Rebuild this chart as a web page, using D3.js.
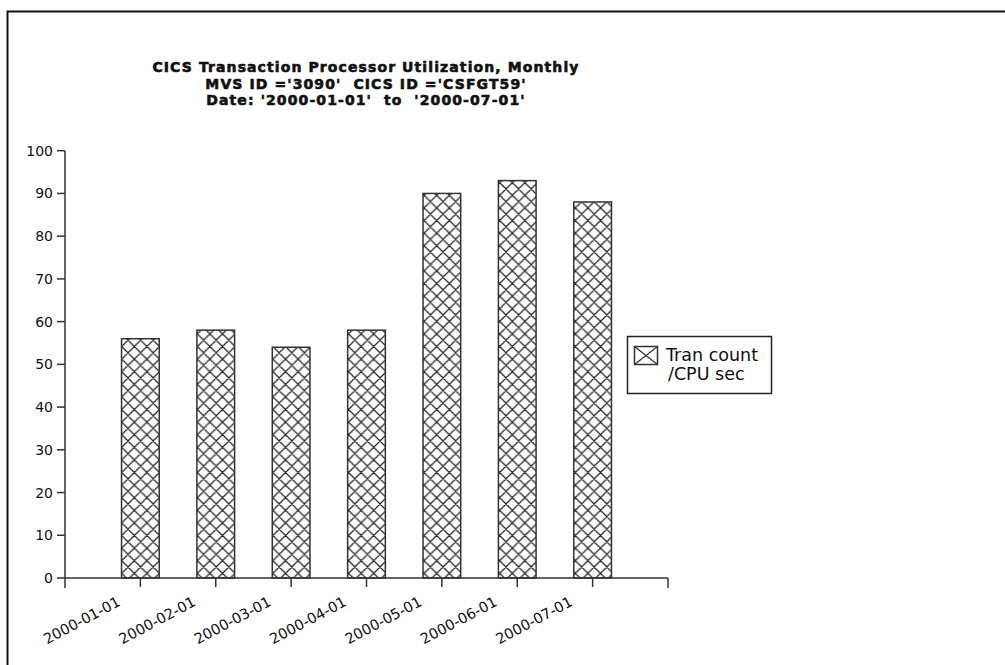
<!DOCTYPE html>
<html>
<head>
<meta charset="utf-8">
<script src="https://cdn.jsdelivr.net/npm/d3@7"></script>
<style>
  html, body { margin: 0; padding: 0; background: #fff; }
  svg { display: block; }
  text { font-family: "DejaVu Sans", "Liberation Sans", Arial, sans-serif; fill: #111; }
</style>
</head>
<body>
<script>
const categories = ["2000-01-01","2000-02-01","2000-03-01","2000-04-01","2000-05-01","2000-06-01","2000-07-01"];
const values = [56, 58, 54, 58, 90, 93, 88];
const yTicks = [0,10,20,30,40,50,60,70,80,90,100];
const titleLines = [
  "CICS Transaction Processor Utilization, Monthly",
  "MVS ID ='3090'  CICS ID ='CSFGT59'",
  "Date: '2000-01-01'  to  '2000-07-01'"
];
const legendLines = ["Tran count", "/CPU sec"];

const W = 1005, H = 665;
const svg = d3.select("body").append("svg").attr("width", W).attr("height", H);

// pattern
const defs = svg.append("defs");
const pat = defs.append("pattern").attr("id", "xhatch")
  .attr("patternUnits", "userSpaceOnUse").attr("width", 12.6).attr("height", 12.6)
  .attr("x", 2).attr("y", 0);
pat.append("rect").attr("width", 12.6).attr("height", 12.6).attr("fill", "#fff");
pat.append("path").attr("d", "M-1,-1 L13.6,13.6 M-1,13.6 L13.6,-1 M-7,5.3 L7.3,19.6 M5.3,-7 L19.6,7.3 M-7,7.3 L7.3,-7 M5.3,19.6 L19.6,5.3")
  .attr("stroke", "#222").attr("stroke-width", 1.2).attr("fill", "none");

// outer frame
svg.append("path").attr("d", "M7.5,665 L7.5,11.5 L1005,11.5")
  .attr("fill", "none").attr("stroke", "#111").attr("stroke-width", 2);

const x0 = 65, x1 = 668, yBase = 578, yTop = 150.7;
const slots = d3.range(categories.length + 2);
const xs = d3.scalePoint().domain(slots).range([x0, x1]);
const x = c => xs(categories.indexOf(c) + 1);
const y = d3.scaleLinear().domain([0, 100]).range([yBase, yTop]);
const step = xs.step();
const bw = step * 0.5;

// bars
svg.append("g").selectAll("rect").data(categories).join("rect")
  .attr("x", c => x(c) - bw / 2)
  .attr("y", (c, i) => y(values[i]))
  .attr("width", bw)
  .attr("height", (c, i) => y(0) - y(values[i]))
  .attr("fill", "url(#xhatch)")
  .attr("stroke", "#333").attr("stroke-width", 1.5);

// y axis
const ya = svg.append("g");
ya.append("line").attr("x1", x0).attr("x2", x0).attr("y1", y(100)).attr("y2", yBase + 10)
  .attr("stroke", "#333").attr("stroke-width", 1.5);
ya.selectAll("line.t").data(yTicks).join("line").attr("class", "t")
  .attr("x1", x0 - 8).attr("x2", x0).attr("y1", d => y(d)).attr("y2", d => y(d))
  .attr("stroke", "#333").attr("stroke-width", 1.5);
ya.selectAll("text").data(yTicks).join("text")
  .attr("x", x0 - 12).attr("y", d => y(d)).attr("dy", "0.36em")
  .attr("text-anchor", "end").attr("font-size", 14).text(d => d);

// x axis
const xa = svg.append("g");
xa.append("line").attr("x1", x0).attr("x2", x1).attr("y1", yBase).attr("y2", yBase)
  .attr("stroke", "#333").attr("stroke-width", 1.5);
xa.append("line").attr("x1", x1).attr("x2", x1).attr("y1", yBase).attr("y2", yBase + 10)
  .attr("stroke", "#333").attr("stroke-width", 1.5);
xa.selectAll("line.t").data(categories).join("line").attr("class", "t")
  .attr("x1", c => x(c)).attr("x2", c => x(c)).attr("y1", yBase).attr("y2", yBase + 9)
  .attr("stroke", "#333").attr("stroke-width", 1.5);
xa.selectAll("text").data(categories).join("text")
  .attr("transform", c => `translate(${x(c) - 19},${yBase + 27}) rotate(-28)`)
  .attr("text-anchor", "end").attr("font-size", 14.5).text(c => c);

// title
svg.append("g").selectAll("text").data(titleLines).join("text")
  .attr("x", 366).attr("y", (d, i) => 72 + i * 16.5)
  .attr("text-anchor", "middle").attr("font-size", 14).attr("font-weight", "bold")
  .attr("letter-spacing", 1.1)
  .attr("stroke", "#111").attr("stroke-width", 0.6)
  .attr("xml:space", "preserve").style("white-space", "pre")
  .text(d => d);

// legend
const lg = svg.append("g");
lg.append("rect").attr("x", 627.5).attr("y", 336.5).attr("width", 144).attr("height", 57)
  .attr("fill", "#fff").attr("stroke", "#222").attr("stroke-width", 1.5);
lg.append("rect").attr("x", 634.5).attr("y", 346.5).attr("width", 23).attr("height", 18)
  .attr("fill", "#fff").attr("stroke", "#333").attr("stroke-width", 1.5);
lg.append("path").attr("d", "M634.5,346.5 L657.5,364.5 M634.5,364.5 L657.5,346.5")
  .attr("stroke", "#333").attr("stroke-width", 1.2);
lg.selectAll("text").data(legendLines).join("text")
  .attr("x", (d, i) => i === 0 ? 666 : 668).attr("y", (d, i) => 361 + i * 19)
  .attr("font-size", 17.5).text(d => d);
</script>
</body>
</html>
